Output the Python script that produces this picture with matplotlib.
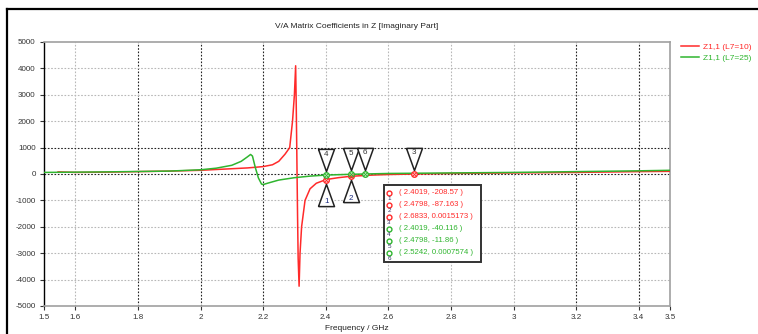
import numpy as np
import matplotlib
matplotlib.use('Agg')
import matplotlib.pyplot as plt
from matplotlib.lines import Line2D
from matplotlib.patches import Rectangle
from matplotlib.transforms import offset_copy

plt.rcParams['font.family'] = ['Liberation Sans Narrow', 'Liberation Sans', 'DejaVu Sans']
plt.rcParams['axes.unicode_minus'] = False

# Z1,1 (L7=10)
freq_a = [1.545, 1.6, 1.7, 1.8, 1.9, 2.0, 2.05, 2.1, 2.15, 2.2, 2.23, 2.25, 2.27, 2.285,
          2.294, 2.300, 2.304, 2.306, 2.308, 2.310, 2.312, 2.315, 2.318, 2.323, 2.334,
          2.35, 2.37, 2.4019, 2.44, 2.4798, 2.55, 2.6, 2.6833, 2.8, 3.0, 3.2, 3.4, 3.5]
z_a = [80, 60, 70, 90, 110, 140, 170, 200, 230, 280, 350, 480, 750, 1000,
       2000, 3000, 4100, 2500, 500, -1500, -3200, -4250, -3000, -2000, -1000,
       -560, -350, -208.57, -140, -87.163, -40, -20, 0.0015, 20, 40, 60, 90, 100]

# Z1,1 (L7=25)
freq_b = [1.5, 1.7, 1.9, 2.0, 2.05, 2.1, 2.13, 2.15, 2.16, 2.166, 2.175, 2.185, 2.195,
          2.2, 2.22, 2.25, 2.3, 2.35, 2.4019, 2.4798, 2.5242, 2.6, 2.8, 3.0, 3.2, 3.4, 3.5]
z_b = [60, 80, 110, 160, 220, 330, 480, 650, 740, 680, 250, -150, -380,
       -400, -330, -230, -140, -80, -40.116, -11.86, 0.0007574, 20, 40, 60, 90, 120, 140]

# markers
mk_id = ['1', '2', '3', '4', '5', '6']
mk_f = [2.4019, 2.4798, 2.6833, 2.4019, 2.4798, 2.5242]
mk_v = [-208.57, -87.163, 0.0015173, -40.116, -11.86, 0.0007574]
mk_txt = ['2.4019, -208.57', '2.4798, -87.163', '2.6833, 0.0015173',
          '2.4019, -40.116', '2.4798, -11.86', '2.5242, 0.0007574']
mk_up = [False, False, True, True, True, True]

red = '#ff2a2a'
green = '#2fb52f'
mk_col = [red, red, red, green, green, green]

xticks = [1.5, 1.6, 1.8, 2.0, 2.2, 2.4, 2.6, 2.8, 3.0, 3.2, 3.4, 3.5]
xlabels = ['1.5', '1.6', '1.8', '2', '2.2', '2.4', '2.6', '2.8', '3', '3.2', '3.4', '3.5']
yticks = list(range(-5000, 5001, 1000))

fig = plt.figure(figsize=(7.58, 3.34), dpi=100)
ax = fig.add_axes([44 / 758, 28 / 334, 626 / 758, 264 / 334])

# grid, some lines darker like the original render
dark_x = [1.8, 2.0, 2.2, 3.2, 3.4]
for xv in xticks[1:-1]:
    c = '#222222' if xv in dark_x else '#b8b8b8'
    ax.axvline(xv, color=c, ls=(0, (1.5, 1.5)), lw=0.8, zorder=0)
for yv in yticks[1:-1]:
    c = '#222222' if yv in (0, 1000) else '#b8b8b8'
    ax.axhline(yv, color=c, ls=(0, (1.5, 1.5)), lw=0.8, zorder=0)

ax.plot(freq_a, z_a, color=red, lw=1.1, label='Z1,1 (L7=10)', zorder=3)
ax.plot(freq_b, z_b, color=green, lw=1.1, label='Z1,1 (L7=25)', zorder=3)

ax.set_xlim(1.5, 3.5)
ax.set_ylim(-5000, 5000)
ax.set_xticks(xticks)
ax.set_xticklabels(xlabels)
ax.set_yticks(yticks)
ax.tick_params(labelsize=5.8, length=3, width=0.8, pad=3, colors='#333333')
for s in ['top', 'right', 'bottom']:
    ax.spines[s].set_color('#a0a0a0')
    ax.spines[s].set_linewidth(1.2)
ax.spines['left'].set_color('black')
ax.spines['left'].set_linewidth(1.0)

ax.set_title('V/A Matrix Coefficients in Z [Imaginary Part]', fontsize=6, pad=10, color='#222222')
ax.set_xlabel('Frequency / GHz', fontsize=6, labelpad=3, color='#222222')

# triangle flags
tri_down = [(-0.36, 0.5), (0.36, 0.5), (0.0, -0.5), (-0.36, 0.5)]
tri_up = [(-0.36, -0.5), (0.36, -0.5), (0.0, 0.5), (-0.36, -0.5)]
for i in range(len(mk_id)):
    f, v = mk_f[i], mk_v[i]
    if mk_up[i]:
        tr = offset_copy(ax.transData, fig=fig, x=0, y=15, units='dots')
        ax.plot([f], [v], marker=tri_down, ms=16, mfc='white', mec='#222222', mew=1.1,
                transform=tr, zorder=5, clip_on=False)
        ax.annotate(mk_id[i], (f, v), xytext=(0, 21), textcoords='offset pixels',
                    ha='center', va='center', fontsize=5.8, color='#333333', zorder=6)
    else:
        tr = offset_copy(ax.transData, fig=fig, x=0, y=-15, units='dots')
        ax.plot([f], [v], marker=tri_up, ms=16, mfc='white', mec='#222222', mew=1.1,
                transform=tr, zorder=5, clip_on=False)
        ax.annotate(mk_id[i], (f, v), xytext=(0, -22), textcoords='offset pixels',
                    ha='center', va='center', fontsize=5.8, color='#1a2a80', zorder=6)
    ax.plot([f], [v], marker='o', ms=4, mfc='white', mec=mk_col[i], mew=1.0, zorder=7)
    ax.plot([f], [v], marker='x', ms=2.2, mec=mk_col[i], mew=0.7, zorder=8)

# marker info box
bx0, bx1 = (384 - 44) / 626, (481 - 44) / 626
by0, by1 = (306 - 262) / 264, (306 - 185) / 264
ax.add_patch(Rectangle((bx0, by0), bx1 - bx0, by1 - by0, transform=ax.transAxes,
                       fc='white', ec='#333333', lw=1.4, zorder=9))
row_y = [193, 205, 217, 229, 241, 253]
for i in range(len(mk_id)):
    yf = (306 - row_y[i]) / 264
    ax.plot([(389 - 44) / 626], [yf], marker='o', ms=3.5, mfc='white', mec=mk_col[i],
            mew=1.0, transform=ax.transAxes, zorder=10, clip_on=False)
    ax.text((389 - 44) / 626, yf - 0.022, mk_id[i], transform=ax.transAxes, ha='center',
            va='center', fontsize=4.5, color='#333366', zorder=10)
    ax.text((399 - 44) / 626, yf, '( ' + mk_txt[i] + ' )', transform=ax.transAxes,
            ha='left', va='center', fontsize=5.6, color=mk_col[i], zorder=10)

# legend outside on the right
leg = ax.legend(loc='upper left', bbox_to_anchor=(1.012, 1.01), frameon=False,
                fontsize=6, handlelength=2.2, handletextpad=0.5, labelspacing=0.4,
                borderaxespad=0)
for t, c in zip(leg.get_texts(), [red, green]):
    t.set_color(c)

# outer frame (top and left edges)
fig.add_artist(Line2D([7 / 758, 1], [1 - 8.5 / 334, 1 - 8.5 / 334], color='black', lw=1.6,
                      transform=fig.transFigure))
fig.add_artist(Line2D([7 / 758, 7 / 758], [0, 1 - 8.5 / 334], color='black', lw=1.6,
                      transform=fig.transFigure))

fig.savefig('out.png', dpi=100)
